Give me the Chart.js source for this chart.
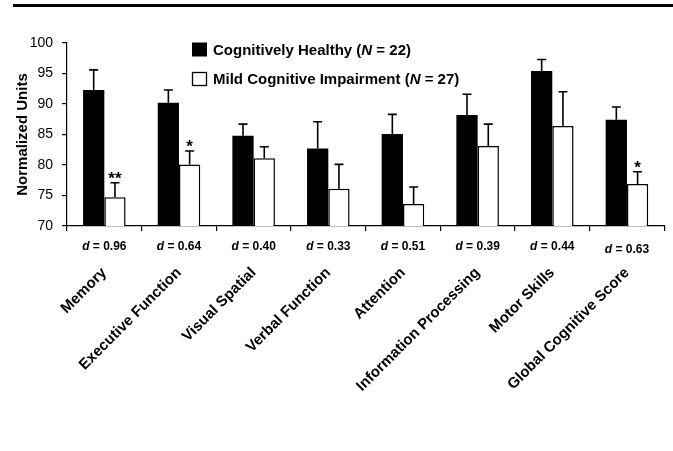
<!DOCTYPE html>
<html>
<head>
<meta charset="utf-8">
<script src="https://cdn.jsdelivr.net/npm/chart.js@4/dist/chart.umd.min.js"></script>
<style>
  html,body{margin:0;padding:0;background:#fff;}
  #wrap{width:673px;height:451px;position:relative;}
</style>
</head>
<body>
<div id="wrap"><canvas id="c" width="673" height="451"></canvas></div>
<script>
const categories = ['Memory','Executive Function','Visual Spatial','Verbal Function','Attention','Information Processing','Motor Skills','Global Cognitive Score'];
const seriesNames = ['Cognitively Healthy','Mild Cognitive Impairment'];
const sampleSizes = [22, 27];
const healthy    = [92.3, 90.2, 84.8, 82.7, 85.1, 88.2, 95.4, 87.4];
const healthyErr = [3.3, 2.1, 1.9, 4.4, 3.2, 3.4, 1.9, 2.1];
const mci        = [74.7, 80.1, 81.1, 76.1, 73.6, 83.1, 86.4, 76.9];
const mciErr     = [2.4, 2.2, 1.9, 4.0, 2.8, 3.6, 5.6, 2.0];
const effectSizes = ['0.96','0.64','0.40','0.33','0.51','0.39','0.44','0.63'];
const significance = ['**','*','','','','','','*'];
const yTicks = {min:70, max:100, step:5};

const FONT = "'Liberation Sans', Arial, Helvetica, sans-serif";

// draw text made of pieces, some italic
function drawParts(ctx, parts, x, y, size){
  parts.forEach(p=>{
    ctx.font = (p.italic?'italic ':'')+'bold '+size+'px '+FONT;
    ctx.fillText(p.text, x, y);
    x += ctx.measureText(p.text).width;
  });
  return x;
}
function partsWidth(ctx, parts, size){
  let w=0;
  parts.forEach(p=>{ctx.font=(p.italic?'italic ':'')+'bold '+size+'px '+FONT;w+=ctx.measureText(p.text).width;});
  return w;
}

const decorations = {
  id:'decorations',
  beforeDraw(chart){
    const ctx=chart.ctx;
    ctx.save();
    ctx.fillStyle='#000';
    ctx.fillRect(13,4,660,3); // rule at the top of the figure
    ctx.restore();
  },
  afterDatasetsDraw(chart){
    const ctx=chart.ctx, y=chart.scales.y;
    const errs=[healthyErr, mciErr], vals=[healthy, mci];
    ctx.save();
    ctx.strokeStyle='#000';
    ctx.lineWidth=1.6;
    [0,1].forEach(d=>{
      chart.getDatasetMeta(d).data.forEach((bar,i)=>{
        const top=y.getPixelForValue(vals[d][i]+errs[d][i]);
        ctx.beginPath();
        ctx.moveTo(bar.x, bar.y);
        ctx.lineTo(bar.x, top);
        ctx.moveTo(bar.x-4.5, top);
        ctx.lineTo(bar.x+4.5, top);
        ctx.stroke();
        if(d===1 && significance[i]){
          ctx.fillStyle='#000';
          ctx.font='bold 17px '+FONT;
          ctx.textAlign='center';
          ctx.textBaseline='alphabetic';
          ctx.fillText(significance[i], bar.x, top+1);
        }
      });
    });
    ctx.restore();
  },
  afterDraw(chart){
    const ctx=chart.ctx, x=chart.scales.x, area=chart.chartArea;
    ctx.save();
    ctx.fillStyle='#000';
    ctx.textAlign='left';
    ctx.textBaseline='alphabetic';
    // effect sizes under the axis
    effectSizes.forEach((v,i)=>{
      const parts=[{text:'d',italic:true},{text:' = '+v}];
      const w=partsWidth(ctx,parts,12);
      const dy = i===categories.length-1 ? 3 : 0;
      drawParts(ctx, parts, x.getPixelForValue(i)-w/2, area.bottom+24+dy, 12);
    });
    // legend inside the plot
    ctx.textBaseline='middle';
    seriesNames.forEach((name,i)=>{
      const cy = 49.5 + i*29.5;
      if(i===0){ ctx.fillStyle='#000'; ctx.fillRect(192, cy-7, 15, 14); }
      else { ctx.fillStyle='#fff'; ctx.fillRect(192, cy-7, 15, 14); ctx.strokeStyle='#000'; ctx.lineWidth=1.3; ctx.strokeRect(192.5, cy-6.5, 14, 13); }
      ctx.fillStyle='#000';
      drawParts(ctx,[{text:name+' ('},{text:'N',italic:true},{text:' = '+sampleSizes[i]+')'}],213,cy+1,15);
    });
    ctx.restore();
  }
};

new Chart(document.getElementById('c'),{
  type:'bar',
  data:{
    labels:categories,
    datasets:[
      {label:seriesNames[0],data:healthy,backgroundColor:'#000',borderColor:'#000',borderWidth:0},
      {label:seriesNames[1],data:mci,backgroundColor:'#fff',borderColor:'#000',borderWidth:1.5}
    ]
  },
  options:{
    responsive:false,
    animation:false,
    events:[],
    layout:{padding:{top:43,right:5,left:0,bottom:0}},
    datasets:{bar:{categoryPercentage:0.57,barPercentage:1.0}},
    plugins:{legend:{display:false},tooltip:{enabled:false}},
    scales:{
      x:{
        grid:{display:true,drawOnChartArea:false,drawTicks:true,tickLength:5,color:'#000',lineWidth:1.2},
        border:{display:true,color:'#000',width:1.2},
        ticks:{autoSkip:false,minRotation:45,maxRotation:45,padding:33,color:'#000',font:{family:FONT,size:15,weight:'bold'}},
        afterFit:s=>{s.height=225;}
      },
      y:{
        min:yTicks.min,max:yTicks.max,
        grid:{display:true,drawOnChartArea:false,drawTicks:true,tickLength:5,color:'#000',lineWidth:1.2},
        border:{display:true,color:'#000',width:1.2},
        ticks:{stepSize:yTicks.step,padding:9,color:'#000',font:{family:FONT,size:14}},
        title:{display:true,text:'Normalized Units',color:'#000',padding:{top:14,bottom:0},font:{family:FONT,size:15,weight:'bold'}},
        afterFit:s=>{s.width=67;}
      }
    }
  },
  plugins:[decorations]
});
</script>
</body>
</html>
